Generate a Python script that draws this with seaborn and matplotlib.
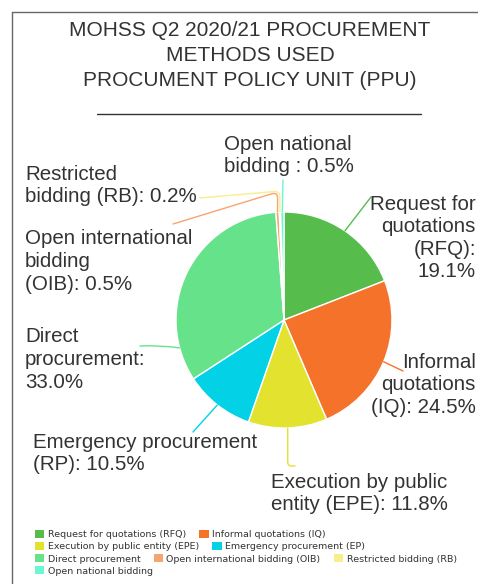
import matplotlib
matplotlib.use("Agg")
import matplotlib.pyplot as plt
import seaborn as sns
import numpy as np
from matplotlib.lines import Line2D
from matplotlib.patches import Patch

# ---------------- data ----------------
categories = [
    "Request for quotations (RFQ)",
    "Informal quotations (IQ)",
    "Execution by public entity (EPE)",
    "Emergency procurement (EP)",
    "Direct procurement",
    "Open international bidding (OIB)",
    "Restricted bidding (RB)",
    "Open national bidding",
]
values = [19.1, 24.5, 11.8, 10.5, 33.0, 0.5, 0.2, 0.5]
label_names = [
    "Request for\nquotations\n(RFQ):\n",
    "Informal\nquotations\n(IQ): ",
    "Execution by public\nentity (EPE): ",
    "Emergency procurement\n(RP): ",
    "Direct\nprocurement:\n",
    "Open international\nbidding\n(OIB): ",
    "Restricted\nbidding (RB): ",
    "Open national\nbidding : ",
]
colors = ["#56BD4D", "#F5722B", "#E2E22F", "#03D2E6",
          "#66E28A", "#F6A56E", "#F9EE8C", "#6CF6D2"]
legend_rows = [[0, 1], [2, 3], [4, 5, 6], [7]]
title = "MOHSS Q2 2020/21 PROCUREMENT\nMETHODS USED\nPROCUMENT POLICY UNIT (PPU)"

# ---------------- style ----------------
sns.set_theme(style="white")
plt.rcParams["font.family"] = ["Liberation Sans", "DejaVu Sans"]
palette = sns.color_palette(colors)
TXT = "#333333"

W, H = 478, 584
fig = plt.figure(figsize=(W / 100, H / 100), dpi=100)
fig.patch.set_facecolor("white")


def px(x, y):
    return (x / W, 1 - y / H)


# pie
cx, cy, R = 284, 320, 108
ax = fig.add_axes([(cx - R) / W, (H - cy - R) / H, 2 * R / W, 2 * R / H])
wedges, _ = ax.pie(values, colors=palette, startangle=90, counterclock=False,
                   wedgeprops=dict(edgecolor="white", linewidth=1))
ax.set_xlim(-1, 1)
ax.set_ylim(-1, 1)

# slice labels
vals = np.array(values)
cum = np.cumsum(vals)
mid = (cum - vals / 2) / vals.sum() * 360.0
anchor_angle = list(mid)
anchor_angle[4] = 255.0  # direct procurement leader attaches on left side

text_pos = [  # x, cap-top y, ha
    (476, 195, "right"),
    (476, 353, "right"),
    (271, 473, "left"),
    (33, 433, "left"),
    (25, 328, "left"),
    (25, 230, "left"),
    (25, 165, "left"),
    (224, 135, "left"),
]
leader_end = [
    ((371, 197), "arc3"),
    ((403, 371), "arc3"),
    ((295, 466), "angle,angleA=0,angleB=90,rad=4"),
    ((193, 432), "arc3"),
    ((140, 346), "arc3,rad=-0.05"),
    ((173, 224), "angle,angleA=17,angleB=90,rad=6"),
    ((200, 198), "angle,angleA=5,angleB=90,rad=6"),
    ((283, 180), "arc3"),
]

for i, (name, v) in enumerate(zip(label_names, values)):
    x, y, ha = text_pos[i]
    fig.text(*px(x, y - 0.5), f"{name}{v:.1f}%", ha=ha, va="top",
             multialignment=ha, fontsize=14.8, color=TXT, linespacing=1.24)
    th = np.deg2rad(anchor_angle[i])
    (ex, ey), cs = leader_end[i]
    ax.annotate("", xy=(np.sin(th), np.cos(th)), xycoords="data",
                xytext=px(ex, ey), textcoords="figure fraction",
                arrowprops=dict(arrowstyle="-", color=palette[i], lw=1,
                                shrinkA=0, shrinkB=0, connectionstyle=cs),
                annotation_clip=False)

# title
fig.text(*px(250, 21.5), title, ha="center", va="top", fontsize=15,
         color=TXT, linespacing=1.38)
fig.add_artist(Line2D([97 / W, 421 / W], [1 - 114 / H, 1 - 114 / H],
                      color=TXT, lw=1))

# frame lines
fig.add_artist(Line2D([12 / W, 12 / W], [1 - 12 / H, 0], color="#666666", lw=1))
fig.add_artist(Line2D([12 / W, 1], [1 - 12 / H, 1 - 12 / H], color="#666666", lw=1))

# legend (flow layout: one legend per row)
row_y = [534.5, 546.5, 559, 571]
for r, idxs in enumerate(legend_rows):
    handles = [Patch(facecolor=palette[i], edgecolor="none") for i in idxs]
    labels = [categories[i] for i in idxs]
    fig.legend(handles, labels, ncol=len(idxs), loc="center left",
               bbox_to_anchor=px(35, row_y[r]), frameon=False,
               prop={"family": "DejaVu Sans", "size": 6.8},
               borderpad=0, borderaxespad=0, handlelength=1.0,
               handleheight=0.85, handletextpad=0.35, columnspacing=1.4,
               labelcolor=TXT)

fig.savefig("out.png", dpi=100)
